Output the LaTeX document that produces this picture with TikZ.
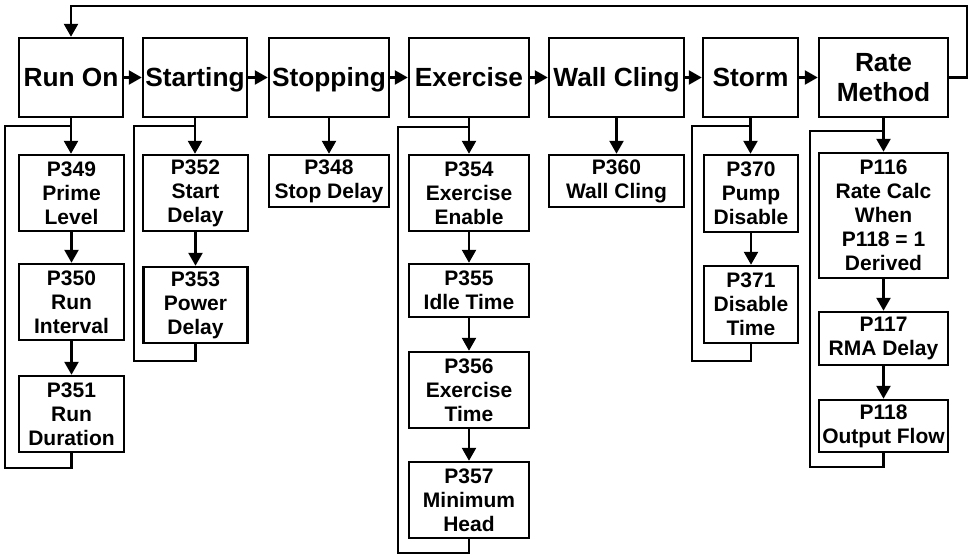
\documentclass[tikz,border=0pt]{standalone}
\usepackage{fontspec}
\setmainfont{Liberation Sans}
\usetikzlibrary{arrows.meta}
\begin{document}
\begin{tikzpicture}[x=1pt,y=-1pt,
  box/.style={draw, line width=2.5pt, inner sep=0pt, align=center,
    font=\bfseries\fontsize{21}{24}\selectfont},
  topbox/.style={box, minimum height=79pt, font=\bfseries\fontsize{26.3}{30}\selectfont},
  oneline/.style={topbox, text height=18.8pt, text depth=0pt},
  conn/.style={line width=2.5pt},
  arr/.style={conn, -{Triangle[length=13pt,width=14pt]}}]
\useasboundingbox (0,0) rectangle (972,555);
% top row
\node[oneline, minimum width=104pt] (runon) at (71,77.5) {Run On};
\node[oneline, minimum width=104pt] (starting) at (195,77.5) {Starting};
\node[oneline, minimum width=120pt] (stopping) at (329,77.5) {Stopping};
\node[oneline, minimum width=120pt] (exercise) at (469,77.5) {Exercise};
\node[oneline, minimum width=135pt] (wallcling) at (616.5,77.5) {Wall Cling};
\node[oneline, minimum width=95pt] (storm) at (750.5,77.5) {Storm};
\node[topbox, minimum width=129pt] (rate) at (883.5,77.5) {Rate\\Method};
% children
\node[box, minimum width=105pt, minimum height=76pt] (p349) at (71.5,193) {P349\\Prime\\Level};
\node[box, minimum width=105pt, minimum height=76pt] (p350) at (71.5,302) {P350\\Run\\Interval};
\node[box, minimum width=105pt, minimum height=76pt] (p351) at (71.5,414) {P351\\Run\\Duration};
\node[box, minimum width=105pt, minimum height=76pt] (p352) at (195.5,193) {P352\\Start\\Delay};
\node[box, minimum width=104pt, minimum height=76pt] (p353) at (195.5,305) {P353\\Power\\Delay};
\node[box, minimum width=120pt, minimum height=52pt] (p348) at (329,181) {P348\\Stop Delay};
\node[box, minimum width=120pt, minimum height=76pt] (p354) at (469,193) {P354\\Exercise\\Enable};
\node[box, minimum width=120pt, minimum height=53pt] (p355) at (469,290.5) {P355\\Idle Time};
\node[box, minimum width=120pt, minimum height=76pt] (p356) at (469,390) {P356\\Exercise\\Time};
\node[box, minimum width=120pt, minimum height=76pt] (p357) at (469,500) {P357\\Minimum\\Head};
\node[box, minimum width=135pt, minimum height=52pt] (p360) at (616.5,181) {P360\\Wall Cling};
\node[box, minimum width=94pt, minimum height=77pt] (p370) at (751,193.5) {P370\\Pump\\Disable};
\node[box, minimum width=94pt, minimum height=77pt] (p371) at (751,304.5) {P371\\Disable\\Time};
\node[box, minimum width=129pt, minimum height=125pt] (p116) at (883.5,215.5) {P116\\Rate Calc\\When\\P118 = 1\\Derived};
\node[box, minimum width=129pt, minimum height=53pt] (p117) at (883.5,338.5) {P117\\RMA Delay};
\node[box, minimum width=129pt, minimum height=52pt] (p118) at (883.5,426) {P118\\Output Flow};
% top row arrows
\draw[arr] (runon.east) -- (starting.west);
\draw[arr] (starting.east) -- (stopping.west);
\draw[arr] (stopping.east) -- (exercise.west);
\draw[arr] (exercise.east) -- (wallcling.west);
\draw[arr] (wallcling.east) -- (storm.west);
\draw[arr] (storm.east) -- (rate.west);
% feedback
\coordinate (fb) at (967,6);
\draw[arr] (rate.east) -- (fb |- rate.east) -- (fb) -- (fb -| runon.north) -- (runon.north);
% run on column
\draw[arr] (runon.south) -- (runon.south |- p349.north);
\draw[arr] (p349.south) -- (p349.south |- p350.north);
\draw[arr] (p350.south) -- (p350.south |- p351.north);
\coordinate (la1) at (5,126);
\coordinate (lb1) at (5,468);
\draw[conn] (p351.south) |- (lb1) -- (la1) -- (la1 -| runon.south);
% starting column
\draw[arr] (starting.south) -- (starting.south |- p352.north);
\draw[arr] (p352.south) -- (p352.south |- p353.north);
\coordinate (la2) at (134,126);
\coordinate (lb2) at (134,361);
\draw[conn] (p353.south) |- (lb2) -- (la2) -- (la2 -| starting.south);
% stopping
\draw[arr] (stopping.south) -- (p348.north);
% exercise column
\draw[arr] (exercise.south) -- (p354.north);
\draw[arr] (p354.south) -- (p355.north);
\draw[arr] (p355.south) -- (p356.north);
\draw[arr] (p356.south) -- (p357.north);
\coordinate (la3) at (398,127);
\coordinate (lb3) at (398,553);
\draw[conn] (p357.south) |- (lb3) -- (la3) -- (la3 -| exercise.south);
% wall cling
\draw[arr] (wallcling.south) -- (p360.north);
% storm column
\draw[arr] (storm.south) -- (storm.south |- p370.north);
\draw[arr] (p370.south) -- (p371.north);
\coordinate (la4) at (692,126);
\coordinate (lb4) at (692,361);
\draw[conn] (p371.south) |- (lb4) -- (la4) -- (la4 -| storm.south);
% rate column
\draw[arr] (rate.south) -- (p116.north);
\draw[arr] (p116.south) -- (p117.north);
\draw[arr] (p117.south) -- (p118.north);
\coordinate (la5) at (810,131);
\coordinate (lb5) at (810,467);
\draw[conn] (p118.south) |- (lb5) -- (la5) -- (la5 -| rate.south);
\end{tikzpicture}
\end{document}
